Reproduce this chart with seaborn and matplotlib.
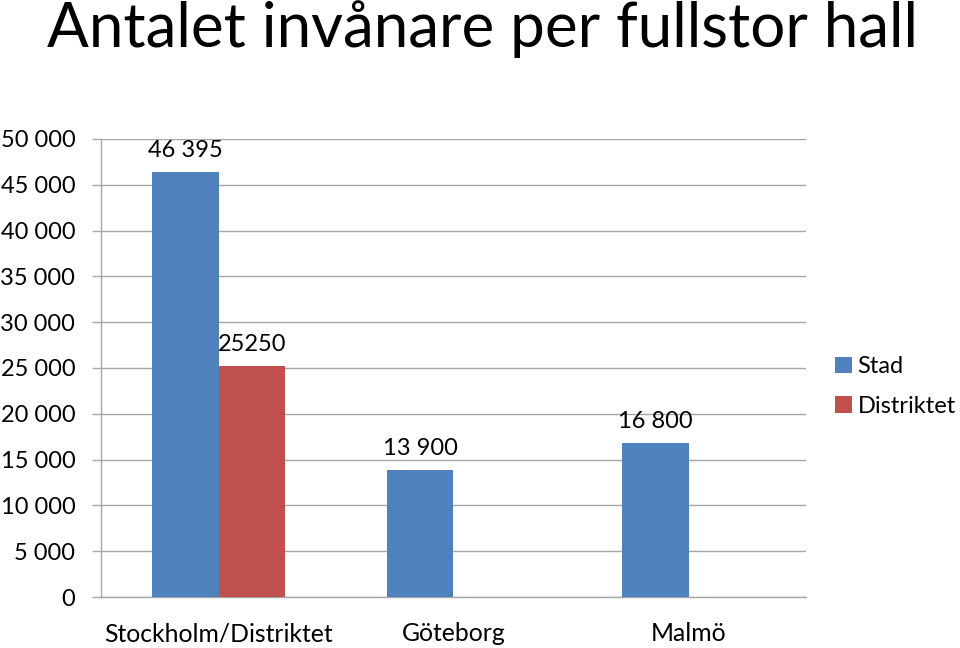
import matplotlib
matplotlib.use("Agg")
import matplotlib.pyplot as plt
import seaborn as sns
import pandas as pd
import numpy as np

categories = ["Stockholm/Distriktet", "Göteborg", "Malmö"]
stad_values = [46395, 13900, 16800]
distrikt_values = [25250, None, None]
stad_labels = ["46 395", "13 900", "16 800"]
distrikt_labels = ["25250"]
series_names = ["Stad", "Distriktet"]
y_ticks = [0, 5000, 10000, 15000, 20000, 25000, 30000, 35000, 40000, 45000, 50000]
y_tick_labels = ["0", "5 000", "10 000", "15 000", "20 000", "25 000", "30 000",
                 "35 000", "40 000", "45 000", "50 000"]
title = "Antalet invånare per fullstor hall"

rows = []
for c, v in zip(categories, stad_values):
    rows.append({"Stad_kat": c, "Serie": series_names[0], "Värde": v})
for c, v in zip(categories, distrikt_values):
    if v is not None:
        rows.append({"Stad_kat": c, "Serie": series_names[1], "Värde": v})
df = pd.DataFrame(rows)

sns.set_style("white")
plt.rcParams["font.family"] = ["Lato", "DejaVu Sans"]
plt.rcParams["text.color"] = "black"
plt.rcParams["xtick.labelcolor"] = "black"
plt.rcParams["ytick.labelcolor"] = "black"

fig = plt.figure(figsize=(9.6, 6.48), dpi=100)
ax = fig.add_axes([101/960, 1-597/648, (806-101)/960, (597-139)/648])

sns.barplot(data=df, x="Stad_kat", y="Värde", hue="Serie", order=categories,
            hue_order=series_names, palette=["#4F81BD", "#C0504D"],
            width=0.57, gap=0, saturation=1, errorbar=None, ax=ax, zorder=3,
            linewidth=0)

ax.bar_label(ax.containers[0], labels=stad_labels, padding=8, fontsize=17, color="black")
ax.bar_label(ax.containers[1], labels=distrikt_labels, padding=8, fontsize=17, color="black")

ax.set_ylim(0, 50000)
ax.set_xlim(-0.5, 2.5)
ax.set_yticks(y_ticks)
ax.set_yticklabels(y_tick_labels, fontsize=17)
ax.set_xticks(range(len(categories)))
ax.set_xticklabels(categories, fontsize=17.8)
ax.set_xticks([-0.5, 0.5, 1.5, 2.5], minor=True)
ax.tick_params(axis="x", which="major", length=0, pad=18)
ax.tick_params(axis="x", which="minor", length=6.5, color="#A6A6A6", width=1, direction="out")
ax.tick_params(axis="y", length=6.5, color="#A6A6A6", width=1, direction="out", pad=12, left=True)
ax.set_xlabel("")
ax.set_ylabel("")
ax.grid(axis="y", color="#A6A6A6", linewidth=1, zorder=0)
ax.set_axisbelow(True)
for s in ["top", "right"]:
    ax.spines[s].set_visible(False)
for s in ["left", "bottom"]:
    ax.spines[s].set_color("#A6A6A6")
    ax.spines[s].set_linewidth(1)

handles, labels = ax.get_legend_handles_labels()
ax.get_legend().remove()
fig.legend(handles, labels, loc="center left", bbox_to_anchor=(835/960, 1-386.5/648),
           frameon=False, fontsize=17, handlelength=0.7, handleheight=0.7,
           handletextpad=0.25, labelspacing=0.8, borderpad=0, borderaxespad=0)

fig.text(0.503, 1-29/648, title, ha="center", va="center", fontsize=44.6, color="black")

fig.savefig("out.png", dpi=100)
